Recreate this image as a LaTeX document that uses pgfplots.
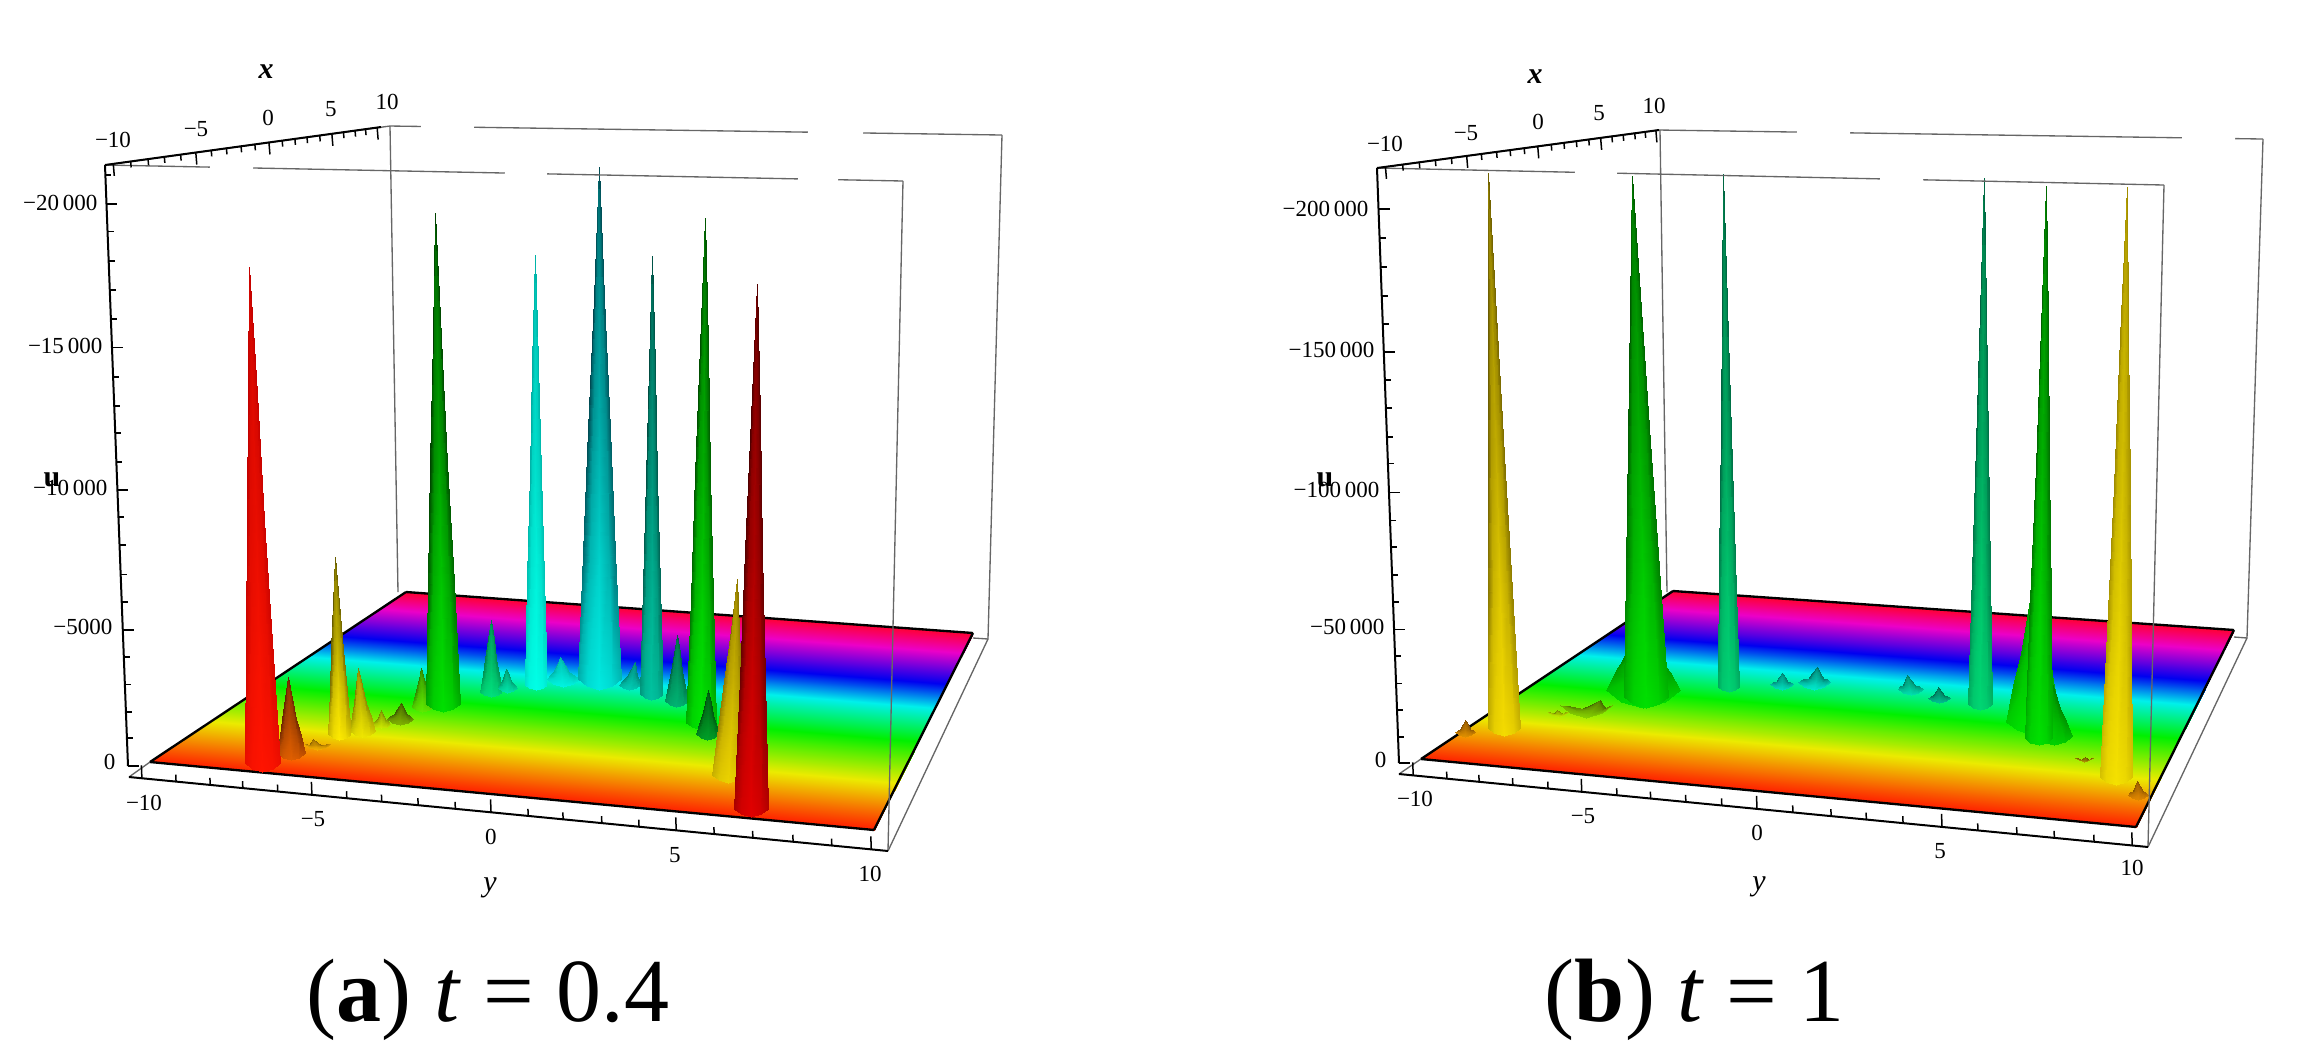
\documentclass[border=0pt]{standalone}
\usepackage{fontspec}
\setmainfont{Liberation Serif}
\usepackage{pgfplots}
\usepackage{pgfplotstable}
\pgfplotsset{compat=1.18}
% ---- mesh of one peak: r from tip to foot, u across the foot, m shading, k foot curve
\pgfplotstableread{
r u m h k
0 0 .03 0 0
0 .2 .24 0 0
0 .5 .30 0 0
0 .8 .22 0 0
0 1 .09 0 0
.25 0 .05 0 0
.25 .2 .40 0 0
.25 .5 .50 0 0
.25 .8 .38 0 0
.25 1 .15 0 0
.5 0 .09 0 0
.5 .2 .52 0 0
.5 .5 .65 0 0
.5 .8 .49 0 0
.5 1 .20 0 0
.75 0 .25 0 .6
.75 .2 .70 0 .2
.75 .5 .85 0 0
.75 .8 .66 0 .2
.75 1 .32 0 .6
1 0 .65 0 1
1 .2 .90 0 .35
1 .5 1 0 0
1 .8 .90 0 .35
1 1 .70 0 1
}\peakgrid
\pgfplotstableread{
s t h
0 0 0
1 0 0
0 .1 0
1 .1 0
0 .2 0
1 .2 0
0 .3 0
1 .3 0
0 .4 0
1 .4 0
0 .5 0
1 .5 0
0 .6 0
1 .6 0
0 .7 0
1 .7 0
0 .8 0
1 .8 0
0 .9 0
1 .9 0
0 1 0
1 1 0
}\floorgrid
\pgfplotsset{
  tk/.style={black,line width=.45pt,forget plot},
  ax/.style={black,line width=.6pt,forget plot},
  bx/.style={black!60,line width=.4pt,forget plot},
  ed/.style={black,line width=.7pt,forget plot},
  gp/.style={white,line width=1.2pt,forget plot},
  colormap={rb}{rgb255(0cm)=(255,30,0) rgb255(24cm)=(235,235,0) rgb255(45cm)=(0,240,0) rgb255(62cm)=(0,240,235) rgb255(74cm)=(0,0,240) rgb255(90cm)=(235,0,200) rgb255(100cm)=(255,0,50)},
}
% tip x, tip y, foot y, foot left, foot right, dark rgb, bright rgb
\newcommand\peak[7]{%
  \addplot3[surf,shader=interp,forget plot,mesh/rows=5,mesh/cols=5,point meta=explicit,
    colormap={sp}{rgb255(0cm)=(#6) rgb255(1cm)=(#7)}]
    table[x expr={#1+\thisrow{r}*(#4+\thisrow{u}*(#5-#4)-#1)},y expr={#2+\thisrow{r}*(#3-#2)-\thisrow{k}*.25*(#5-#4)},z=h,meta=m]{\peakgrid};
}
% front-left, front-right, back-left, back-right corners
\newcommand\floorplane[8]{%
  \addplot3[surf,shader=interp,forget plot,mesh/rows=11,mesh/cols=2,point meta=explicit,colormap name=rb]
    table[x expr={(1-\thisrow{t})*((1-\thisrow{s})*#1+\thisrow{s}*#3)+\thisrow{t}*((1-\thisrow{s})*#5+\thisrow{s}*#7)},
          y expr={(1-\thisrow{t})*((1-\thisrow{s})*#2+\thisrow{s}*#4)+\thisrow{t}*((1-\thisrow{s})*#6+\thisrow{s}*#8)},
          z=h,meta=t]{\floorgrid};
}
\newcommand\seg[5]{\addplot3[#1] coordinates {(#2,#3,0)(#4,#5,0)};}
\newcommand\ticks[7]{%
  \pgfplotsinvokeforeach{#7}{%
    \addplot3[tk] coordinates {({#1+##1*(#3-#1)},{#2+##1*(#4-#2)},0) ({#1+##1*(#3-#1)+#5},{#2+##1*(#4-#2)+#6},0)};
  }%
}
\newcommand\lab[3]{\node[font=\fontsize{6.9}{7}\selectfont,inner sep=0pt] at (axis cs:#1,#2,0) {#3};}
\newcommand\labr[3]{\node[font=\fontsize{6.9}{7}\selectfont,inner sep=0pt,anchor=east] at (axis cs:#1,#2,0) {#3};}
\newcommand\lablarge[3]{\node[font=\fontsize{9}{9}\selectfont,inner sep=0pt] at (axis cs:#1,#2,0) {#3};}
\pgfplotsset{panel/.style={
  hide axis,scale only axis,anchor=south west,view={0}{90},
  y dir=reverse,ymin=0,ymax=1062,zmin=-1,zmax=1,height=318.6pt,width=345.9pt,clip=false,
  point meta min=0,point meta max=1}}
\begin{document}
\begin{tikzpicture}
\path[use as bounding box] (0pt,0pt) rectangle (691.8pt,318.6pt);
% ================= panel (a)
\begin{axis}[panel,at={(0pt,0pt)},xmin=0,xmax=1153]
\seg{bx}{390}{126}{398}{592}
\seg{bx}{390}{126}{1002}{135}
\seg{bx}{1002}{135}{988}{639}
\seg{bx}{105}{165}{390}{126}
\seg{bx}{129}{777}{150}{762}
\seg{bx}{973}{638}{988}{639}
\seg{gp}{421}{126.5}{474}{127}
\seg{gp}{808}{132}{863}{133}
\floorplane{150}{762}{874}{830}{406}{592}{973}{633}
\seg{ed}{150}{762}{406}{592}
\seg{ed}{406}{592}{973}{633}
\seg{ed}{973}{633}{874}{830}
\seg{ed}{874}{830}{150}{762}
% peaks, back to front
\peak{491}{620}{697}{480}{502}{0,120,70}{0,225,125}
\peak{560}{657}{687}{547}{579}{0,170,160}{0,245,225}
\peak{635}{662}{690}{619}{640}{0,120,110}{0,205,180}
\peak{506}{669}{693}{498}{517}{0,140,100}{0,230,170}
\peak{535}{255}{690}{525}{547}{0,170,160}{0,255,230}
\peak{599}{167}{690}{578}{621}{0,60,70}{0,235,225}
\peak{677}{635}{707}{665}{688}{0,90,60}{0,180,115}
\peak{652}{256}{700}{640}{663}{0,70,60}{0,195,160}
\peak{421}{668}{712}{412}{433}{40,120,0}{95,235,0}
\peak{435}{213}{712}{426}{460}{0,50,0}{0,225,0}
\peak{401}{703}{725}{387}{413}{50,80,0}{130,180,0}
\peak{705}{218}{730}{686}{716}{0,70,0}{0,230,0}
\peak{381}{710}{728}{373}{390}{110,130,0}{205,235,0}
\peak{708}{690}{740}{696}{719}{0,70,10}{0,160,40}
\peak{358}{668}{737}{350}{375}{120,120,0}{240,230,0}
\peak{335}{557}{740}{328}{351}{90,80,0}{255,235,0}
\peak{313}{739}{750}{305}{330}{130,90,0}{245,175,0}
\peak{288}{677}{760}{277}{305}{90,30,0}{225,95,0}
\peak{737}{579}{783}{712}{745}{130,110,0}{235,210,0}
\peak{249}{267}{772}{245}{280}{190,0,0}{255,20,0}
\peak{757}{284}{817}{734}{768}{70,0,0}{225,0,0}
% front box and axes
\seg{bx}{903}{181}{888}{851}
\seg{bx}{105}{165}{903}{181}
\seg{bx}{888}{851}{988}{639}
\seg{gp}{210}{167}{253}{168}
\seg{gp}{505}{173}{547}{174}
\seg{gp}{798}{179}{838}{180}
\seg{ax}{105}{165}{381}{127}
\seg{ax}{105}{165}{128}{766}
\seg{ax}{129}{777}{888}{851}
\ticks{105}{165}{381}{127}{1}{12}{.03,.329,.594,.822,.986}
\ticks{105}{165}{381}{127}{.5}{6}{.093,.156,.215,.274,.385,.44,.493,.543,.642,.688,.732,.778,.864,.906,.944}
\ticks{129}{777}{888}{851}{-.5}{-13}{.017,.241,.477,.721,.978}
\ticks{129}{777}{888}{851}{-.3}{-7}{.062,.107,.150,.196,.287,.333,.381,.43,.526,.572,.623,.672,.771,.822,.875,.926}
\ticks{105}{165}{128}{766}{11}{0}{.065,.304,.541,.774,1}
\ticks{105}{165}{128}{766}{6}{0}{.017,.111,.16,.208,.256,.353,.401,.446,.494,.586,.632,.681,.727,.819,.864,.91,.953}
\lablarge{266}{72}{\textbf{\textit{x}}}
\lab{113}{140}{−10}\lab{196}{129}{−5}\lab{268}{118}{0}\lab{331}{109}{5}\lab{387}{102}{10}
\labr{98}{203}{−20\,000}\labr{103}{346}{−15\,000}\labr{108}{488}{−10\,000}\labr{113}{627}{−5000}\labr{116}{762}{0}
\lablarge{52}{480}{\textbf{u}}
\lab{144}{803}{−10}\lab{313}{819}{−5}\lab{491}{837}{0}\lab{675}{855}{5}\lab{870}{874}{10}
\lablarge{490}{888}{\textit{y}}
\node[font=\fontsize{27}{27}\selectfont,inner sep=0pt] at (axis cs:488,1000,0) {(\textbf{a}) \textit{t} = 0.4};
\end{axis}
% ================= panel (b)
\begin{axis}[panel,at={(345.9pt,0pt)},xmin=1153,xmax=2306]
\seg{bx}{1660}{130}{1667}{592}
\seg{bx}{1659}{130}{2263}{139}
\seg{bx}{2263}{139}{2247}{638}
\seg{bx}{1377}{168}{1659}{130}
\seg{bx}{1399}{774}{1421}{759}
\seg{bx}{2234}{637}{2247}{638}
\seg{gp}{1797}{132}{1850}{133}
\seg{gp}{2182}{138}{2235}{139}
\floorplane{1421}{759}{2136}{827}{1673}{591}{2234}{630}
\seg{ed}{1421}{759}{1673}{591}
\seg{ed}{1673}{591}{2234}{630}
\seg{ed}{2234}{630}{2136}{827}
\seg{ed}{2136}{827}{1421}{759}
% peaks, back to front
\peak{1782}{673}{690}{1770}{1793}{0,110,100}{0,225,190}
\peak{1817}{667}{690}{1798}{1830}{0,100,90}{0,235,205}
\peak{1907}{675}{695}{1898}{1923}{0,110,90}{0,225,175}
\peak{1938}{687}{703}{1928}{1950}{0,90,70}{0,195,145}
\peak{1723}{174}{692}{1718}{1739}{0,90,60}{0,210,115}
\peak{1984}{178}{710}{1968}{1992}{0,90,60}{0,215,115}
\peak{1600}{700}{718}{1560}{1612}{60,90,0}{135,210,0}
\peak{1557}{710}{717}{1548}{1568}{110,130,0}{195,235,0}
\peak{1640}{610}{708}{1606}{1680}{0,130,0}{0,225,0}
\peak{1632}{176}{708}{1624}{1668}{0,80,0}{0,225,0}
\peak{2035}{570}{735}{2006}{2060}{0,150,0}{0,230,0}
\peak{2048}{670}{745}{2035}{2072}{0,120,0}{0,210,0}
\peak{2046}{186}{745}{2025}{2052}{0,90,0}{0,225,0}
\peak{1465}{720}{737}{1455}{1475}{120,70,0}{225,145,0}
\peak{2085}{757}{762}{2075}{2093}{90,70,0}{180,155,0}
\peak{1488}{173}{736}{1488}{1520}{100,85,0}{245,220,0}
\peak{2127}{187}{785}{2100}{2132}{150,130,0}{245,225,0}
\peak{2137}{781}{800}{2128}{2148}{130,80,0}{225,135,0}
% front box and axes
\seg{bx}{2164}{185}{2148}{847}
\seg{bx}{1377}{168}{2164}{185}
\seg{bx}{2148}{847}{2247}{638}
\seg{gp}{1575}{172}{1617}{173}
\seg{gp}{1880}{179}{1923}{180}
\seg{ax}{1377}{168}{1659}{130}
\seg{ax}{1377}{168}{1399}{763}
\seg{ax}{1399}{774}{2148}{847}
\ticks{1377}{168}{1659}{130}{1}{12}{.03,.318,.57,.793,.989}
\ticks{1377}{168}{1659}{130}{.5}{6}{.091,.15,.207,.264,.37,.424,.472,.522,.618,.663,.707,.751,.833,.873,.914,.951}
\ticks{1399}{774}{2148}{847}{-.5}{-13}{.019,.244,.478,.725,.979}
\ticks{1399}{774}{2148}{847}{-.3}{-7}{.064,.107,.152,.199,.291,.336,.383,.431,.526,.577,.624,.673,.773,.825,.875,.928}
\ticks{1377}{168}{1399}{763}{11}{0}{.069,.309,.545,.776,1}
\ticks{1377}{168}{1399}{763}{6}{0}{.118,.166,.215,.262,.356,.403,.452,.497,.592,.637,.684,.729,.82,.866,.911,.956}
\lablarge{1535}{77}{\textbf{\textit{x}}}
\lab{1385}{144}{−10}\lab{1466}{133}{−5}\lab{1538}{122}{0}\lab{1599}{113}{5}\lab{1654}{106}{10}
\labr{1369}{209}{−200\,000}\labr{1375}{350}{−150\,000}\labr{1380}{490}{−100\,000}\labr{1385}{627}{−50\,000}\labr{1387}{760}{0}
\lablarge{1325}{480}{\textbf{u}}
\lab{1415}{799}{−10}\lab{1583}{816}{−5}\lab{1757}{833}{0}\lab{1940}{851}{5}\lab{2132}{868}{10}
\lablarge{1759}{887}{\textit{y}}
\node[font=\fontsize{27}{27}\selectfont,inner sep=0pt] at (axis cs:1695,1000,0) {(\textbf{b}) \textit{t} = 1};
\end{axis}
\end{tikzpicture}
\end{document}
